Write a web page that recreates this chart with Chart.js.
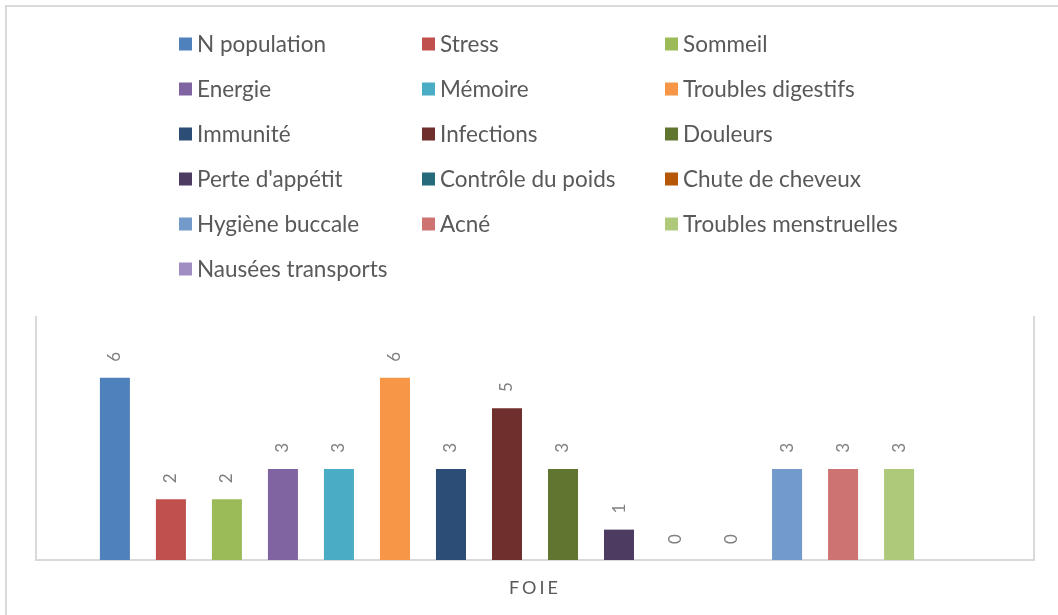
<!DOCTYPE html>
<html>
<head>
<meta charset="utf-8">
<script src="https://cdn.jsdelivr.net/npm/chart.js@4/dist/chart.umd.min.js"></script>
<style>
  html, body { margin: 0; padding: 0; background: #fff; }
  #wrap { width: 1058px; height: 615px; }
</style>
</head>
<body>
<div id="wrap"><canvas id="foie"></canvas></div>
<script>
// categories and series
var categories = ["FOIE"];
var seriesNames = ["N population", "Stress", "Sommeil", "Energie", "Mémoire", "Troubles digestifs",
  "Immunité", "Infections", "Douleurs", "Perte d'appétit", "Contrôle du poids", "Chute de cheveux",
  "Hygiène buccale", "Acné", "Troubles menstruelles", "Nausées transports"];
var seriesValues = [6, 2, 2, 3, 3, 6, 3, 5, 3, 1, 0, 0, 3, 3, 3, null];
var seriesColors = ['#4F81BD', '#C0504D', '#9BBB59', '#8064A2', '#4BACC6', '#F79646',
  '#2C4D75', '#6E2F2D', '#5F7530', '#4D3B62', '#276A7C', '#B65708',
  '#729ACA', '#CD7371', '#AFC97A', '#A08DC2'];

var FONT = 'Lato, "Open Sans", sans-serif';

var datasets = seriesNames.map(function (name, i) {
  return {
    label: name,
    data: [seriesValues[i]],
    backgroundColor: seriesColors[i],
    categoryPercentage: 0.898,
    barPercentage: 0.536
  };
});

// frame, spacing for the axis label, legend grid and rotated value labels
var decor = {
  id: 'decor',
  beforeDraw: function (chart) {
    var ctx = chart.ctx;
    ctx.save();
    ctx.strokeStyle = '#d9d9d9';
    ctx.lineWidth = 2;
    ctx.strokeRect(6, 6, 1100, 700);
    ctx.restore();
    ctx.letterSpacing = '3px';
  },
  beforeDatasetsDraw: function (chart) {
    chart.ctx.letterSpacing = '0px';
  },
  afterDatasetsDraw: function (chart) {
    var ctx = chart.ctx;
    ctx.save();
    ctx.font = '17px ' + FONT;
    ctx.fillStyle = '#808080';
    ctx.textAlign = 'center';
    ctx.textBaseline = 'middle';
    chart.data.datasets.forEach(function (ds, i) {
      var v = ds.data[0];
      if (v === null || v === undefined) return;
      var bar = chart.getDatasetMeta(i).data[0];
      ctx.save();
      ctx.translate(bar.x, bar.y - 21);
      ctx.rotate(-Math.PI / 2);
      ctx.fillText(String(v), 0, 0);
      ctx.restore();
    });
    ctx.restore();
  },
  afterDraw: function (chart) {
    var ctx = chart.ctx;
    var colX = [179, 422, 665];
    ctx.save();
    ctx.font = '22.5px ' + FONT;
    ctx.textBaseline = 'middle';
    ctx.textAlign = 'left';
    seriesNames.forEach(function (name, i) {
      var x = colX[i % 3];
      var y = 44 + 45 * Math.floor(i / 3);
      ctx.fillStyle = seriesColors[i];
      ctx.fillRect(x, y - 6.5, 13, 13);
      ctx.fillStyle = '#595959';
      ctx.fillText(name, x + 18, y + 1);
    });
    ctx.restore();
  }
};

new Chart(document.getElementById('foie'), {
  type: 'bar',
  data: { labels: categories, datasets: datasets },
  options: {
    responsive: true,
    maintainAspectRatio: false,
    animation: false,
    layout: { padding: { left: 36, right: 24, top: 317, bottom: 0 } },
    plugins: { legend: { display: false }, tooltip: { enabled: false } },
    scales: {
      x: {
        grid: { display: false, drawTicks: false },
        border: { display: true, color: '#d9d9d9', width: 2 },
        ticks: { color: '#595959', font: { family: FONT, size: 18 }, padding: 17 },
        afterFit: function (s) { s.height = 55; }
      },
      y: {
        min: 0, max: 8,
        grid: { display: false, drawTicks: false },
        border: { display: true, color: '#d9d9d9', width: 2 },
        ticks: { display: false },
        afterFit: function (s) { s.width = 0; }
      },
      y2: {
        position: 'right',
        min: 0, max: 8,
        grid: { display: false, drawTicks: false },
        border: { display: true, color: '#d9d9d9', width: 2 },
        ticks: { display: false },
        afterFit: function (s) { s.width = 0; }
      }
    }
  },
  plugins: [decor]
});
</script>
</body>
</html>
